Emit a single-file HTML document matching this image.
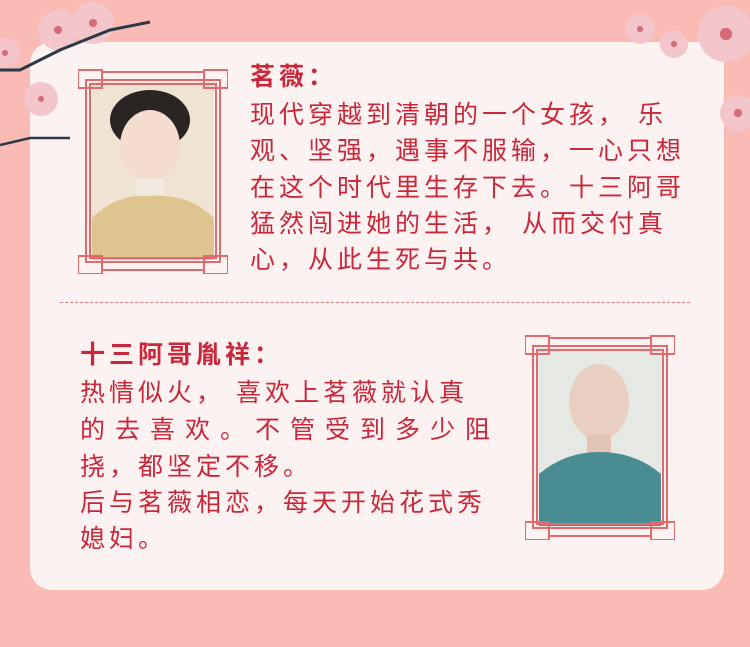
<!DOCTYPE html>
<html><head><meta charset="utf-8">
<style>
html,body{margin:0;padding:0}
body{width:750px;height:647px;background:#f9bbb3;position:relative;overflow:hidden;font-family:"Liberation Sans","Noto Sans CJK SC",sans-serif}
.card{position:absolute;left:30px;top:42px;width:694px;height:548px;background:#fdf2f2;border-radius:22px}
.t{position:absolute;color:#c8283a;font-size:25px;letter-spacing:4px;white-space:pre;line-height:30px}
.b{font-weight:bold}
.dash{position:absolute;left:60px;top:302px;width:630px;border-top:1.5px dashed #e07a80}
.fl{position:absolute;border-radius:50%;background:#f3c6cb}
.fl::after{content:"";position:absolute;left:40%;top:40%;width:20%;height:20%;border-radius:50%;background:#d56a78}
svg{position:absolute}
</style></head><body>
<div class="card"></div>

<div class="fl" style="left:38px;top:10px;width:40px;height:40px"></div>
<div class="fl" style="left:72px;top:2px;width:42px;height:42px"></div>
<div class="fl" style="left:-10px;top:38px;width:30px;height:30px"></div>
<div class="fl" style="left:24px;top:82px;width:34px;height:34px"></div>
<div class="fl" style="left:625px;top:14px;width:30px;height:30px"></div>
<div class="fl" style="left:660px;top:30px;width:28px;height:28px"></div>
<div class="fl" style="left:698px;top:6px;width:56px;height:56px"></div>
<div class="fl" style="left:720px;top:95px;width:36px;height:36px"></div>
<svg width="750" height="647" style="left:0;top:0">
<path d="M0 70 L20 70 L60 50 L110 30 L150 22" stroke="#2c3a48" stroke-width="3" fill="none"/>
<path d="M0 145 L30 138 L70 138" stroke="#2c3a48" stroke-width="2.5" fill="none"/>
</svg>

<svg width="150" height="206" style="left:78px;top:68px">
<rect x="14" y="14" width="122" height="178" fill="#efe3d4"/>
<ellipse cx="72" cy="52" rx="40" ry="30" fill="#2a2422"/>
<ellipse cx="72" cy="78" rx="30" ry="36" fill="#f4dccf"/>
<rect x="58" y="110" width="28" height="20" fill="#f2e9e0"/>
<path d="M14 192 L14 150 Q40 125 72 128 Q110 125 136 150 L136 192Z" fill="#e0c48f"/>
<g fill="none" stroke="#e06a6e" stroke-width="2">
<rect x="8" y="12" width="134" height="182"/>
<rect x="12" y="16" width="126" height="174"/>
<rect x="0" y="2" width="24" height="18"/><rect x="126" y="2" width="24" height="18"/>
<rect x="0" y="188" width="24" height="18"/><rect x="126" y="188" width="24" height="18"/>
<line x1="24" y1="4" x2="126" y2="4"/><line x1="24" y1="202" x2="126" y2="202"/>
</g>
</svg>

<svg width="150" height="206" style="left:525px;top:334px">
<rect x="14" y="14" width="122" height="178" fill="#e6e8e4"/>
<ellipse cx="74" cy="68" rx="30" ry="38" fill="#e8cfc2"/>
<rect x="62" y="100" width="24" height="22" fill="#e2c4b6"/>
<path d="M14 192 L14 140 Q40 118 74 118 Q110 118 136 140 L136 192Z" fill="#4a8c94"/>
<g fill="none" stroke="#e06a6e" stroke-width="2">
<rect x="8" y="12" width="134" height="182"/>
<rect x="12" y="16" width="126" height="174"/>
<rect x="0" y="2" width="24" height="18"/><rect x="126" y="2" width="24" height="18"/>
<rect x="0" y="188" width="24" height="18"/><rect x="126" y="188" width="24" height="18"/>
<line x1="24" y1="4" x2="126" y2="4"/><line x1="24" y1="202" x2="126" y2="202"/>
</g>
</svg>

<div class="t b" style="left:250px;top:62px">茗薇：</div>
<div class="t" style="left:250px;top:100px">现代穿越到清朝的一个女孩， 乐</div>
<div class="t" style="left:250px;top:136px">观、坚强，遇事不服输，一心只想</div>
<div class="t" style="left:250px;top:173px">在这个时代里生存下去。十三阿哥</div>
<div class="t" style="left:250px;top:209px">猛然闯进她的生活， 从而交付真</div>
<div class="t" style="left:250px;top:245px">心，从此生死与共。</div>

<div class="dash"></div>

<div class="t b" style="left:80px;top:340px">十三阿哥胤祥：</div>
<div class="t" style="left:80px;top:378px">热情似火， 喜欢上茗薇就认真</div>
<div class="t" style="left:80px;top:415px;letter-spacing:10px">的去喜欢。不管受到多少阻</div>
<div class="t" style="left:80px;top:452px">挠，都坚定不移。</div>
<div class="t" style="left:80px;top:488px">后与茗薇相恋，每天开始花式秀</div>
<div class="t" style="left:80px;top:524px">媳妇。</div>
</body></html>
